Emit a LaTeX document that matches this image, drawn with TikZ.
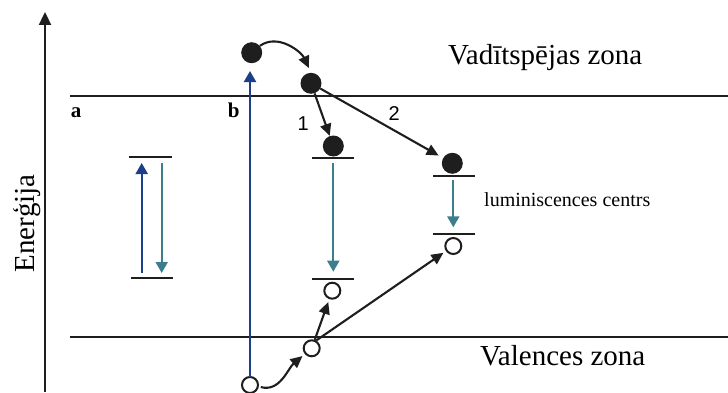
\documentclass[tikz,border=0pt]{standalone}
\usepackage{fontspec}
\setmainfont{Liberation Serif}
\newfontfamily\numfont{Liberation Sans}
\usetikzlibrary{arrows.meta}
\definecolor{ink}{HTML}{1E1E1E}
\definecolor{pumpblue}{HTML}{1D3F8A}
\definecolor{lumteal}{HTML}{3D7E8E}
\begin{document}
\begin{tikzpicture}[x=1pt,y=1pt,
  electron/.style={circle,fill=ink,minimum size=21pt,inner sep=0pt},
  hole/.style={circle,draw=ink,line width=2pt,fill=white,minimum size=16pt,inner sep=0pt},
  band/.style={draw=ink,line width=2.4pt},
  level/.style={draw=ink,line width=2.3pt},
  jump/.style={draw=ink,line width=2.1pt,-{Triangle[length=12pt,width=11pt]}},
  pump/.style={draw=pumpblue,line width=2.1pt,-{Triangle[length=11pt,width=12pt]}},
  emit/.style={draw=lumteal,line width=2.1pt,-{Triangle[length=11pt,width=12pt]}},
  big/.style={font=\fontsize{29}{33}\selectfont},
  small/.style={font=\fontsize{20}{24}\selectfont},
  mark label/.style={font=\fontsize{21}{24}\selectfont\bfseries},
  num label/.style={font=\numfont\fontsize{20}{24}\selectfont},
]
\useasboundingbox (0,0) rectangle (728,392);

% energy axis
\coordinate (ax0) at (45,0);
\coordinate (ax1) at (45,380);
\draw[draw=ink,line width=2.3pt,-{Triangle[length=13pt,width=12pt]}] (ax0) -- (ax1);
\node[big,rotate=90,anchor=base west,inner sep=0pt] (axlabel) at (34.3,119.3) {Enerģija};

% band edges
\coordinate (cbL) at (70,296);
\coordinate (cbR) at (728,296);
\coordinate (vbL) at (70,55);
\coordinate (vbR) at (728,55);
\draw[band] (cbL) -- (cbR);
\draw[band] (vbL) -- (vbR);
\node[big,anchor=base west,inner sep=0pt] (cbtext) at (448,328) {Vadītspējas zona};
\node[big,anchor=base west,inner sep=0pt] (vbtext) at (480,26.3) {Valences zona};
\node[mark label,anchor=base west,inner sep=0pt] (ma) at (70.7,274.7) {a};
\node[mark label,anchor=base west,inner sep=0pt] (mb) at (227.7,274.7) {b};

% case a: excitation and emission inside a centre
\coordinate (aTopL) at (129,234.7);
\coordinate (aTopR) at (172,234.7);
\coordinate (aBotL) at (131,114.3);
\coordinate (aBotR) at (173,114.3);
\draw[level] (aTopL) -- (aTopR);
\draw[level] (aBotL) -- (aBotR);
\coordinate (aUp0) at (141.7,119);
\coordinate (aUp1) at (141.7,229);
\coordinate (aDn0) at (161.7,229);
\coordinate (aDn1) at (161.7,119);
\draw[pump] (aUp0) -- (aUp1);
\draw[emit] (aDn0) -- (aDn1);

% case b: band-to-band excitation
\node[hole] (bh) at (250,7) {};
\node[electron] (e0) at (251.7,339.3) {};
\coordinate (pump0) at (250,15);
\coordinate (pump1) at (250,321);
\draw[pump] (pump0) -- (pump1);

% free electron and its capture
\node[electron] (e1) at (311,308.7) {};
\draw[jump,shorten >=5pt] (e0.40) to[out=35,in=115] (e1.north);

% centre 1
\node[electron] (e2) at (333.3,246) {};
\coordinate (c1TopL) at (312,234.3);
\coordinate (c1TopR) at (354,234.3);
\coordinate (c1BotL) at (312.3,112.7);
\coordinate (c1BotR) at (354,112.7);
\draw[level] (c1TopL) -- (c1TopR);
\draw[level] (c1BotL) -- (c1BotR);
\coordinate (c1e0) at (333.3,228.7);
\coordinate (c1e1) at (333.3,120.3);
\draw[emit] (c1e0) -- (c1e1);
\node[hole] (h2) at (332.3,101.3) {};

% centre 2
\node[electron] (e3) at (452.3,228.7) {};
\coordinate (c2TopL) at (433.3,216.3);
\coordinate (c2TopR) at (475,216.3);
\coordinate (c2BotL) at (433.3,157.7);
\coordinate (c2BotR) at (475,157.7);
\draw[level] (c2TopL) -- (c2TopR);
\draw[level] (c2BotL) -- (c2BotR);
\coordinate (c2e0) at (453.3,212);
\coordinate (c2e1) at (453.3,164.7);
\draw[emit] (c2e0) -- (c2e1);
\node[hole] (h3) at (453.3,146) {};
\node[small,anchor=base west,inner sep=0pt] (lumtext) at (484,185.3) {luminiscences centrs};

% electron capture paths
\draw[jump] (e1) -- (e2);
\draw[jump,shorten >=5pt] (e1) -- (e3);
\node[num label,anchor=base west,inner sep=0pt] (n1) at (297.3,262) {1};
\node[num label,anchor=base west,inner sep=0pt] (n2) at (388.3,271.3) {2};

% hole in the valence band and its capture
\node[hole] (vh) at (311.7,43.7) {};
\draw[jump,shorten <=2pt,shorten >=3pt] (bh.-10) to[out=-15,in=220] (vh);
\draw[jump,shorten >=3pt] (vh) -- (h2);
\draw[jump,shorten >=3pt] (vh.60) -- (h3);
\end{tikzpicture}
\end{document}
